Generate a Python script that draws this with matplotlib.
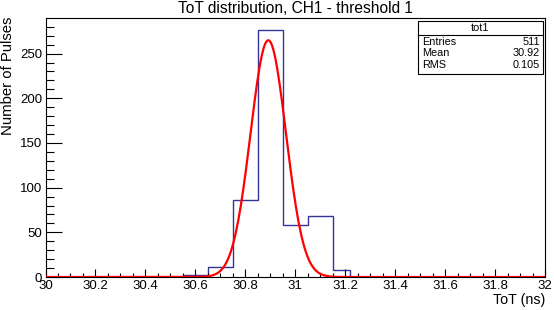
import matplotlib.pyplot as plt
import numpy as np
from matplotlib.patches import Rectangle
from matplotlib.lines import Line2D
from matplotlib.ticker import MultipleLocator
from matplotlib.transforms import ScaledTranslation

plt.rcParams['font.family'] = ['Liberation Sans', 'DejaVu Sans']

# histogram tot1 (ToT in ns)
bin_edges = [30.0, 30.55, 30.65, 30.75, 30.85, 30.95, 31.05, 31.15, 31.22, 32.0]
counts = [0, 2, 11, 86, 276, 58, 68, 8, 0]

# gaussian fit parameters
fit_const = 265.0
fit_mean = 30.892
fit_sigma = 0.071

stat_names = ["Entries", "Mean", "RMS"]
stat_values = ["511", "30.92", "0.105"]

W, H = 554, 310
fig = plt.figure(figsize=(W / 100, H / 100), dpi=100)
x0, x1, y0, y1 = 45.5, 545, 18.3, 277
ax = fig.add_axes([x0 / W, 1 - y1 / H, (x1 - x0) / W, (y1 - y0) / H])

ax.stairs(counts, bin_edges, color='#333399', linewidth=1.0, baseline=0)

xf = np.linspace(30, 32, 400)
yf = fit_const * np.exp(-0.5 * ((xf - fit_mean) / fit_sigma) ** 2)
ax.plot(xf, yf, color='red', linewidth=1.6, zorder=3)

ax.set_xlim(30, 32)
ax.set_ylim(0, 289.5)
ax.xaxis.set_major_locator(MultipleLocator(0.2))
ax.xaxis.set_minor_locator(MultipleLocator(0.05))
ax.yaxis.set_major_locator(MultipleLocator(50))
ax.yaxis.set_minor_locator(MultipleLocator(10))
ax.xaxis.set_major_formatter(plt.FuncFormatter(lambda v, p: f"{v:g}"))
ax.tick_params(axis='x', which='major', direction='in', length=5.8, width=0.8, pad=2.5, labelsize=9.5)
ax.tick_params(axis='x', which='minor', direction='in', length=2.9, width=0.8)
ax.tick_params(axis='y', which='major', direction='in', length=11.5, width=0.8, pad=2.5, labelsize=9.5)
ax.tick_params(axis='y', which='minor', direction='in', length=5.8, width=0.8)
for s in ax.spines.values():
    s.set_linewidth(0.8)

# ROOT draws the "0" label a bit higher and "30" a bit to the right
fig.canvas.draw()
ylab0 = ax.yaxis.get_majorticklabels()[0]
ylab0.set_transform(ylab0.get_transform() + ScaledTranslation(-3 / 100, 6 / 100, fig.dpi_scale_trans))
xlab0 = ax.xaxis.get_majorticklabels()[0]
xlab0.set_transform(xlab0.get_transform() + ScaledTranslation(2 / 100, 0, fig.dpi_scale_trans))

fig.text(295 / W, 1 - 8.5 / H, "ToT distribution, CH1 - threshold 1", ha='center', va='center', fontsize=11.2)
fig.text(545 / W, 1 - 300 / H, "ToT (ns)", ha='right', va='center', fontsize=10.3)
fig.text(8.5 / W, 1 - 17 / H, "Number of Pulses", ha='center', va='top', rotation=90, fontsize=10.7)

# stats box
bx0, bx1, by0, by1 = 418, 543, 21, 74
fig.add_artist(Rectangle((bx0 / W, 1 - by1 / H), (bx1 - bx0) / W, (by1 - by0) / H,
                         transform=fig.transFigure, facecolor='white', edgecolor='black', linewidth=0.8, zorder=5))
fig.add_artist(Line2D([bx0 / W, bx1 / W], [1 - 35 / H, 1 - 35 / H], transform=fig.transFigure,
                      color='black', linewidth=0.8, zorder=6))
fig.text((bx0 + bx1) / 2 / W, 1 - 28 / H, "tot1", ha='center', va='center', fontsize=7.8, zorder=7)
for i, (n, v) in enumerate(zip(stat_names, stat_values)):
    yy = 1 - (42 + i * 11.5) / H
    fig.text((bx0 + 4) / W, yy, n, ha='left', va='center', fontsize=7.8, zorder=7)
    fig.text((bx1 - 3) / W, yy, v, ha='right', va='center', fontsize=7.8, zorder=7)

plt.savefig('out.png', dpi=100)
